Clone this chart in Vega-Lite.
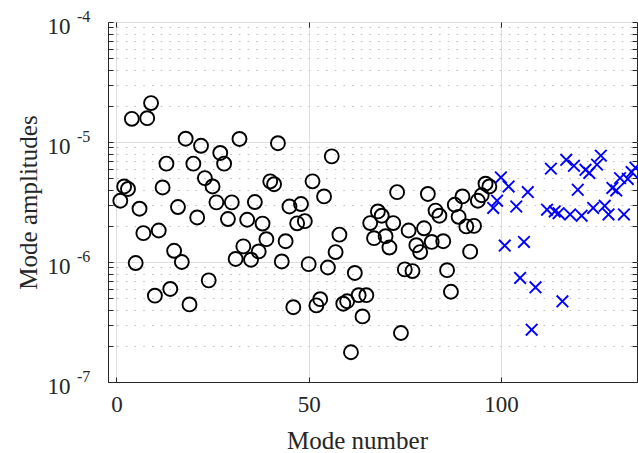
{
  "$schema": "https://vega.github.io/schema/vega-lite/v6.json",
  "width": 529,
  "height": 360,
  "autosize": "none",
  "padding": {"left": 108, "top": 22, "right": 1, "bottom": 71},
  "background": "white",
  "config": {
    "view": {"stroke": "#262626", "strokeWidth": 1},
    "font": "Liberation Serif"
  },
  "datasets": {
    "circles": [
      {"mode":1,"amp":3.24e-6},{"mode":2,"amp":4.26e-6},{"mode":3,"amp":4.06e-6},{"mode":4,"amp":1.56e-5},{"mode":5,"amp":9.8e-7},
      {"mode":6,"amp":2.78e-6},{"mode":7,"amp":1.74e-6},{"mode":8,"amp":1.58e-5},{"mode":9,"amp":2.11e-5},{"mode":10,"amp":5.24e-7},
      {"mode":11,"amp":1.83e-6},{"mode":12,"amp":4.18e-6},{"mode":13,"amp":6.6e-6},{"mode":14,"amp":5.96e-7},{"mode":15,"amp":1.24e-6},
      {"mode":16,"amp":2.87e-6},{"mode":17,"amp":1.0e-6},{"mode":18,"amp":1.065e-5},{"mode":19,"amp":4.43e-7},{"mode":20,"amp":6.6e-6},
      {"mode":21,"amp":2.35e-6},{"mode":22,"amp":9.3e-6},{"mode":23,"amp":5.0e-6},{"mode":24,"amp":7.03e-7},{"mode":25,"amp":4.26e-6},
      {"mode":26,"amp":3.14e-6},{"mode":27,"amp":8.1e-6},{"mode":28,"amp":6.6e-6},{"mode":29,"amp":2.28e-6},{"mode":30,"amp":3.14e-6},
      {"mode":31,"amp":1.06e-6},{"mode":32,"amp":1.06e-5},{"mode":33,"amp":1.35e-6},{"mode":34,"amp":2.25e-6},{"mode":35,"amp":1.045e-6},
      {"mode":36,"amp":3.16e-6},{"mode":37,"amp":1.225e-6},{"mode":38,"amp":2.09e-6},{"mode":39,"amp":1.55e-6},{"mode":40,"amp":4.7e-6},
      {"mode":41,"amp":4.45e-6},{"mode":42,"amp":9.77e-6},{"mode":43,"amp":1.01e-6},{"mode":44,"amp":1.49e-6},{"mode":45,"amp":2.9e-6},
      {"mode":46,"amp":4.2e-7},{"mode":47,"amp":2.1e-6},{"mode":48,"amp":3.04e-6},{"mode":49,"amp":2.19e-6},{"mode":50,"amp":9.6e-7},
      {"mode":51,"amp":4.7e-6},{"mode":52,"amp":4.35e-7},{"mode":53,"amp":4.9e-7},{"mode":54,"amp":3.52e-6},{"mode":55,"amp":9.0e-7},
      {"mode":56,"amp":7.59e-6},{"mode":57,"amp":1.21e-6},{"mode":58,"amp":1.69e-6},{"mode":59,"amp":4.49e-7},{"mode":60,"amp":4.71e-7},
      {"mode":61,"amp":1.77e-7},{"mode":62,"amp":8.1e-7},{"mode":63,"amp":5.29e-7},{"mode":64,"amp":3.52e-7},{"mode":65,"amp":5.29e-7},
      {"mode":66,"amp":2.11e-6},{"mode":67,"amp":1.58e-6},{"mode":68,"amp":2.64e-6},{"mode":69,"amp":2.43e-6},{"mode":70,"amp":1.64e-6},
      {"mode":71,"amp":1.32e-6},{"mode":72,"amp":2.11e-6},{"mode":73,"amp":3.82e-6},{"mode":74,"amp":2.56e-7},{"mode":75,"amp":8.68e-7},
      {"mode":76,"amp":1.83e-6},{"mode":77,"amp":8.4e-7},{"mode":78,"amp":1.38e-6},{"mode":79,"amp":1.21e-6},{"mode":80,"amp":1.91e-6},
      {"mode":81,"amp":3.69e-6},{"mode":82,"amp":1.47e-6},{"mode":83,"amp":2.68e-6},{"mode":84,"amp":2.43e-6},{"mode":85,"amp":1.49e-6},
      {"mode":86,"amp":8.55e-7},{"mode":87,"amp":5.65e-7},{"mode":88,"amp":3.0e-6},{"mode":89,"amp":2.38e-6},{"mode":90,"amp":3.52e-6},
      {"mode":91,"amp":1.98e-6},{"mode":92,"amp":1.22e-6},{"mode":93,"amp":2.0e-6},{"mode":94,"amp":3.24e-6},{"mode":95,"amp":3.6e-6},
      {"mode":96,"amp":4.49e-6},{"mode":97,"amp":4.26e-6}
    ],
    "crosses": [
      {"mode":98,"amp":2.82e-6},{"mode":99,"amp":3.24e-6},{"mode":100,"amp":5.07e-6},{"mode":101,"amp":1.37e-6},{"mode":102,"amp":4.26e-6},
      {"mode":104,"amp":2.9e-6},{"mode":105,"amp":7.36e-7},{"mode":106,"amp":1.47e-6},{"mode":107,"amp":3.83e-6},{"mode":108,"amp":2.73e-7},
      {"mode":109,"amp":6.15e-7},{"mode":112,"amp":2.73e-6},{"mode":113,"amp":6.0e-6},{"mode":114,"amp":2.64e-6},{"mode":115,"amp":2.55e-6},
      {"mode":116,"amp":4.7e-7},{"mode":117,"amp":7.1e-6},{"mode":118,"amp":2.49e-6},{"mode":119,"amp":6.34e-6},{"mode":120,"amp":4.0e-6},
      {"mode":121,"amp":2.43e-6},{"mode":122,"amp":5.87e-6},{"mode":123,"amp":5.52e-6},{"mode":124,"amp":2.82e-6},{"mode":125,"amp":6.48e-6},
      {"mode":126,"amp":7.7e-6},{"mode":127,"amp":2.94e-6},{"mode":128,"amp":2.49e-6},{"mode":129,"amp":4.14e-6},{"mode":130,"amp":3.95e-6},
      {"mode":131,"amp":5.0e-6},{"mode":132,"amp":2.49e-6},{"mode":133,"amp":4.92e-6},{"mode":134,"amp":5.62e-6},{"mode":135,"amp":6.1e-6}
    ],
    "exponents": [
      {"v":1e-7,"e":"-7"},{"v":1e-6,"e":"-6"},{"v":1e-5,"e":"-5"},{"v":1e-4,"e":"-4"}
    ]
  },
  "layer": [
    {
      "data": {"name": "circles"},
      "mark": {"type": "point", "shape": "circle", "filled": false, "stroke": "black", "strokeWidth": 1.9, "size": 195, "opacity": 1},
      "encoding": {
        "x": {
          "field": "mode", "type": "quantitative",
          "scale": {"domain": [-2.2, 135.4], "nice": false, "zero": false},
          "axis": {
            "orient": "bottom", "values": [0, 50, 100], "title": "Mode number",
            "titleFont": "Liberation Serif", "titleFontSize": 25, "titleFontWeight": "normal", "titleColor": "#262626",
            "titleX": 249, "titleY": 66, "titleBaseline": "alphabetic", "titleAlign": "center",
            "labelFont": "Liberation Serif", "labelFontSize": 23, "labelColor": "#262626", "labelPadding": 16, "labelFlush": false, "labelOverlap": false,
            "tickSize": -5, "tickColor": "#262626", "tickWidth": 1,
            "domainColor": "#262626", "domainWidth": 1,
            "grid": true, "gridColor": "#dedede", "gridWidth": 1
          }
        },
        "y": {
          "field": "amp", "type": "quantitative",
          "scale": {"type": "log", "domain": [1e-7, 1e-4], "nice": false},
          "axis": {
            "orient": "left",
            "values": [1e-7,2e-7,3e-7,4e-7,5e-7,6e-7,7e-7,8e-7,9e-7,1e-6,2e-6,3e-6,4e-6,5e-6,6e-6,7e-6,8e-6,9e-6,1e-5,2e-5,3e-5,4e-5,5e-5,6e-5,7e-5,8e-5,9e-5,1e-4],
            "labelExpr": "abs(log(datum.value)/LN10 - round(log(datum.value)/LN10)) < 1e-6 ? '10' : ''",
            "title": "Mode amplitudes",
            "titleFont": "Liberation Serif", "titleFontSize": 25, "titleFontWeight": "normal", "titleColor": "#262626",
            "titleAngle": -90, "titleX": -72, "titleY": 180, "titleBaseline": "alphabetic", "titleAlign": "center",
            "labelFont": "Liberation Serif", "labelFontSize": 23, "labelColor": "#262626", "labelPadding": 43, "labelOffset": 4.5, "labelOverlap": false, "labelFlush": false,
            "tickSize": -5, "tickColor": "#262626", "tickWidth": 1,
            "domainColor": "#262626", "domainWidth": 1,
            "grid": true,
            "gridColor": {"condition": {"test": "abs(log(datum.value)/LN10 - round(log(datum.value)/LN10)) < 1e-6", "value": "#dedede"}, "value": "#bdbdbd"},
            "gridDash": {"condition": {"test": "abs(log(datum.value)/LN10 - round(log(datum.value)/LN10)) < 1e-6", "value": []}, "value": [1.5, 7.2]},
            "gridWidth": 1
          }
        }
      }
    },
    {
      "data": {"name": "crosses"},
      "mark": {"type": "point", "shape": "M-1,-1L1,1M1,-1L-1,1", "filled": false, "stroke": "#0000ff", "strokeWidth": 1.9, "size": 135, "opacity": 1},
      "encoding": {
        "x": {
          "field": "mode", "type": "quantitative",
          "scale": {"domain": [-2.2, 135.4], "nice": false, "zero": false},
          "axis": {"orient": "top", "values": [0, 50, 100], "labels": false, "title": null, "domain": false, "grid": false, "tickSize": -5, "tickColor": "#262626"}
        },
        "y": {
          "field": "amp", "type": "quantitative",
          "scale": {"type": "log", "domain": [1e-7, 1e-4], "nice": false},
          "axis": {
            "orient": "right",
            "values": [1e-7,2e-7,3e-7,4e-7,5e-7,6e-7,7e-7,8e-7,9e-7,1e-6,2e-6,3e-6,4e-6,5e-6,6e-6,7e-6,8e-6,9e-6,1e-5,2e-5,3e-5,4e-5,5e-5,6e-5,7e-5,8e-5,9e-5,1e-4],
            "labels": false, "title": null, "domain": false, "grid": false, "tickSize": -5, "tickColor": "#262626"
          }
        }
      }
    },
    {
      "data": {"name": "exponents"},
      "mark": {"type": "text", "align": "left", "baseline": "middle", "dx": -31, "dy": -5, "font": "Liberation Serif", "fontSize": 16, "color": "#262626", "clip": false},
      "encoding": {
        "x": {"datum": -2.2, "type": "quantitative", "axis": null},
        "y": {"field": "v", "type": "quantitative", "axis": null},
        "text": {"field": "e"}
      }
    }
  ],
  "resolve": {"axis": {"x": "independent", "y": "independent"}}
}
